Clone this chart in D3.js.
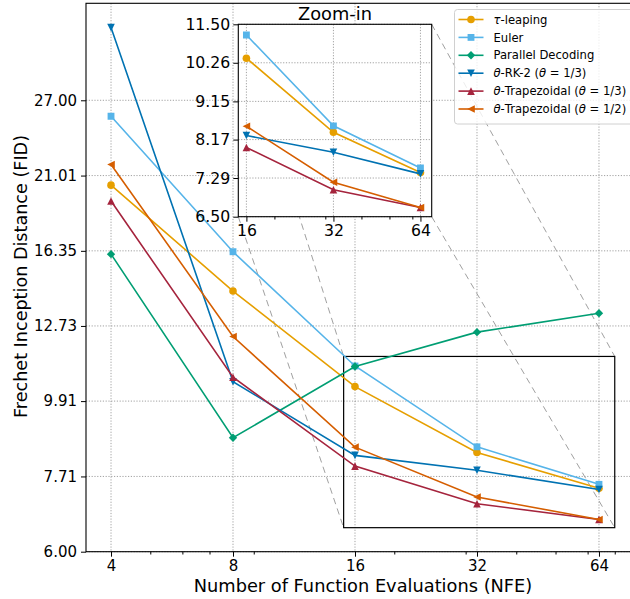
<!DOCTYPE html>
<html><head><meta charset="utf-8">
<script src="https://cdn.jsdelivr.net/npm/d3@7"></script>
<style>body{margin:0;background:#fff} svg{display:block;font-family:"DejaVu Sans",sans-serif}</style>
</head><body><svg id="c" width="630" height="599"></svg>
<script>
// ---------- data ----------
const nfe = [4, 8, 16, 32, 64];
const tauLeaping   = [20.35, 14.30, 10.40, 8.35, 7.41];
const euler        = [25.60, 16.30, 11.14, 8.51, 7.51];
const parallelDec  = [16.17, 8.77, 11.12, 12.47, 13.28];
const thetaRK2     = [34.40, 10.57, 8.27, 7.87, 7.38];
const thetaTrap13  = [19.30, 10.73, 7.98, 7.04, 6.68];
const thetaTrap12  = [21.80, 12.29, 8.50, 7.20, 6.68];

const xTicks = [4, 8, 16, 32, 64];
const xMinorTicks = [5, 6, 7, 9, 20, 30, 40, 50, 60, 70];
const yTicks = [6.00, 7.71, 9.91, 12.73, 16.35, 21.01, 27.00];
const insetXTicks = [16, 32, 64];
const insetXMinor = [20, 30, 40, 50, 60];
const insetYTicks = [6.50, 7.29, 8.17, 9.15, 10.26, 11.50];
const insetNfe = [16, 32, 64];

const seriesNames = [
  [{t:"τ", i:true},{t:"-leaping"}],
  [{t:"Euler"}],
  [{t:"Parallel Decoding"}],
  [{t:"θ", i:true},{t:"-RK-2 ("},{t:"θ", i:true},{t:" = 1/3)"}],
  [{t:"θ", i:true},{t:"-Trapezoidal ("},{t:"θ", i:true},{t:" = 1/3)"}],
  [{t:"θ", i:true},{t:"-Trapezoidal ("},{t:"θ", i:true},{t:" = 1/2)"}]
];
const seriesValues = [tauLeaping, euler, parallelDec, thetaRK2, thetaTrap13, thetaTrap12];
const seriesColors = ["#E69F00", "#56B4E9", "#009E73", "#0072B2", "#A5243D", "#D55E00"];
const seriesMarkers = ["circle", "square", "diamond", "triDown", "triUp", "triLeft"];
const insetSeries = [0, 1, 3, 4, 5]; // Parallel Decoding is not shown in the zoom-in

// ---------- layout ----------
const svg = d3.select("#c");
const M = {l: 86, r: 640, t: 3.3, b: 551.7};
const x = d3.scaleLog().domain([3.47, 80.8]).range([M.l, M.r]);
const y = d3.scaleLog().domain([6, 37.3]).range([M.b, M.t]);
const I = {l: 238.3, r: 431.7, t: 24.3, b: 216.7};
const xi = d3.scaleLog().domain([15, 70]).range([I.l, I.r]);
const yi = d3.scaleLog().domain([6.5, 11.5]).range([I.b, I.t]);

const gridStyle = sel => sel.attr("stroke", "#8a8a8a").attr("stroke-width", 0.8)
  .attr("stroke-dasharray", "1.2,1.6").attr("fill", "none");

function markerPath(type, s) {
  const h = s / 2;
  switch (type) {
    case "circle": return d3.symbol(d3.symbolCircle, Math.PI * h * h)();
    case "square": { const a = h * 0.9; return `M${-a},${-a}H${a}V${a}H${-a}Z`; }
    case "diamond": { const a = h * 1.1; return `M0,${-a}L${a},0L0,${a}L${-a},0Z`; }
    case "triDown": return `M0,${h}L${-h},${-h}L${h},${-h}Z`;
    case "triUp": return `M0,${-h}L${-h},${h}L${h},${h}Z`;
    case "triLeft": return `M${-h},0L${h},${-h}L${h},${h}Z`;
  }
}

function drawSeries(g, xs, ys, xvals, idxFrom, which) {
  which.forEach(k => {
    const vals = seriesValues[k];
    const pts = xvals.map((n, j) => [xs(n), ys(vals[j + idxFrom])]);
    g.append("path").attr("d", d3.line()(pts)).attr("fill", "none")
      .attr("stroke", seriesColors[k]).attr("stroke-width", 1.6);
    g.selectAll(null).data(pts).join("path")
      .attr("transform", d => `translate(${d[0]},${d[1]})`)
      .attr("d", markerPath(seriesMarkers[k], 7.6))
      .attr("fill", seriesColors[k]);
  });
}

// ---------- main axes ----------
svg.append("clipPath").attr("id", "mainClip").append("rect")
  .attr("x", M.l).attr("y", M.t).attr("width", M.r - M.l).attr("height", M.b - M.t);
svg.append("clipPath").attr("id", "insetClip").append("rect")
  .attr("x", I.l).attr("y", I.t).attr("width", I.r - I.l).attr("height", I.b - I.t);

const main = svg.append("g");
main.selectAll(null).data(xTicks).join("line")
  .attr("x1", d => x(d)).attr("x2", d => x(d)).attr("y1", M.t).attr("y2", M.b).call(gridStyle);
main.selectAll(null).data(yTicks).join("line")
  .attr("x1", M.l).attr("x2", M.r).attr("y1", d => y(d)).attr("y2", d => y(d)).call(gridStyle);

const xAxis = main.append("g").attr("transform", `translate(0,${M.b})`)
  .call(d3.axisBottom(x).tickValues(xTicks).tickFormat(d3.format("d")).tickSize(5).tickPadding(4));
const xAxisMinor = main.append("g").attr("transform", `translate(0,${M.b})`)
  .call(d3.axisBottom(x).tickValues(xMinorTicks).tickFormat("").tickSize(2.8));
const yAxis = main.append("g").attr("transform", `translate(${M.l},0)`)
  .call(d3.axisLeft(y).tickValues(yTicks).tickFormat(d3.format(".2f")).tickSize(5).tickPadding(4));
[xAxis, xAxisMinor, yAxis].forEach(a => {
  a.select(".domain").remove();
  a.selectAll("line").attr("stroke", "#000").attr("stroke-width", 1);
  a.selectAll("text").attr("font-size", 15).attr("fill", "#000").attr("font-family", "DejaVu Sans");
});

const rx0 = x(15), rx1 = x(70), ry0 = y(11.5), ry1 = y(6.5);
const conn = main.append("g").attr("stroke", "#a0a0a0").attr("stroke-width", 1)
  .attr("stroke-dasharray", "6.5,4.5").attr("fill", "none");
[[I.l, I.t, rx0, ry0], [I.l, I.b, rx0, ry1], [I.r, I.t, rx1, ry0], [I.r, I.b, rx1, ry1]]
  .forEach(c => conn.append("line").attr("x1", c[0]).attr("y1", c[1]).attr("x2", c[2]).attr("y2", c[3]));
main.append("rect").attr("x", rx0).attr("y", ry0).attr("width", rx1 - rx0).attr("height", ry1 - ry0)
  .attr("fill", "none").attr("stroke", "#000").attr("stroke-width", 1.2);

drawSeries(main.append("g").attr("clip-path", "url(#mainClip)"), x, y, nfe, 0, [0, 1, 2, 3, 4, 5]);

main.append("rect").attr("x", M.l).attr("y", M.t).attr("width", M.r - M.l).attr("height", M.b - M.t)
  .attr("fill", "none").attr("stroke", "#000").attr("stroke-width", 1.1);

svg.append("text").attr("x", (M.l + M.r) / 2).attr("y", 592).attr("text-anchor", "middle")
  .attr("font-size", 17.8).text("Number of Function Evaluations (NFE)");
svg.append("text").attr("transform", `translate(27,${(M.t + M.b) / 2 - 1}) rotate(-90)`)
  .attr("text-anchor", "middle").attr("font-size", 17.6).text("Frechet Inception Distance (FID)");

// ---------- inset ----------
const inset = svg.append("g");
inset.append("rect").attr("x", I.l).attr("y", I.t).attr("width", I.r - I.l).attr("height", I.b - I.t).attr("fill", "#fff");
inset.selectAll(null).data(insetXTicks).join("line")
  .attr("x1", d => xi(d)).attr("x2", d => xi(d)).attr("y1", I.t).attr("y2", I.b).call(gridStyle);
inset.selectAll(null).data(insetYTicks).join("line")
  .attr("x1", I.l).attr("x2", I.r).attr("y1", d => yi(d)).attr("y2", d => yi(d)).call(gridStyle);
const ixA = inset.append("g").attr("transform", `translate(0,${I.b})`)
  .call(d3.axisBottom(xi).tickValues(insetXTicks).tickFormat(d3.format("d")).tickSize(5).tickPadding(3));
const ixM = inset.append("g").attr("transform", `translate(0,${I.b})`)
  .call(d3.axisBottom(xi).tickValues(insetXMinor).tickFormat("").tickSize(2.8));
const iyA = inset.append("g").attr("transform", `translate(${I.l},0)`)
  .call(d3.axisLeft(yi).tickValues(insetYTicks).tickFormat(d3.format(".2f")).tickSize(5).tickPadding(3));
[ixA, ixM, iyA].forEach(a => {
  a.select(".domain").remove();
  a.selectAll("line").attr("stroke", "#000").attr("stroke-width", 1);
  a.selectAll("text").attr("font-size", 15.7).attr("fill", "#000").attr("font-family", "DejaVu Sans");
});
drawSeries(inset.append("g").attr("clip-path", "url(#insetClip)"), xi, yi, insetNfe, 2, insetSeries);
inset.append("rect").attr("x", I.l).attr("y", I.t).attr("width", I.r - I.l).attr("height", I.b - I.t)
  .attr("fill", "none").attr("stroke", "#000").attr("stroke-width", 1.1);
inset.append("text").attr("x", (I.l + I.r) / 2).attr("y", 19.5).attr("text-anchor", "middle")
  .attr("font-size", 17.8).text("Zoom-in");

// ---------- legend ----------
const leg = svg.append("g");
leg.append("rect").attr("x", 454.5).attr("y", 9.5).attr("width", 182).attr("height", 114.5).attr("rx", 3)
  .attr("fill", "#fff").attr("fill-opacity", 0.8).attr("stroke", "#d0d0d0").attr("stroke-width", 1);
seriesNames.forEach((parts, k) => {
  const cy = 19.5 + k * 17.9;
  leg.append("line").attr("x1", 458.5).attr("x2", 483.5).attr("y1", cy).attr("y2", cy)
    .attr("stroke", seriesColors[k]).attr("stroke-width", 1.6);
  leg.append("path").attr("transform", `translate(471,${cy})`).attr("d", markerPath(seriesMarkers[k], 7.6))
    .attr("fill", seriesColors[k]);
  const t = leg.append("text").attr("x", 493.5).attr("y", cy).attr("dy", "0.36em").attr("font-size", 11.6);
  parts.forEach(p => t.append("tspan").attr("font-style", p.i ? "italic" : "normal").text(p.t));
});
</script></body></html>
